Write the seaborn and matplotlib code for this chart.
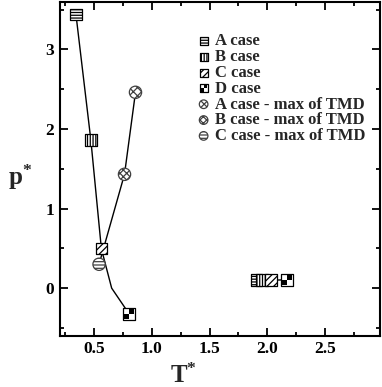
import numpy as np
import pandas as pd
import seaborn as sns
import matplotlib.pyplot as plt
from matplotlib.path import Path
from matplotlib.legend_handler import HandlerTuple

#------------------------------------------------------------------------------------
# data (T*, p*)

# low-T branch, solid line (the 4th point is a bare kink of the line)
line_t = [0.345, 0.474, 0.565, 0.654, 0.806]
line_p = [3.44, 1.86, 0.495, 0.0, -0.325]

# high-T cluster
hi_t = [1.905, 1.955, 2.03, 2.17]
hi_p = [0.10, 0.10, 0.10, 0.105]

cases = ["A", "B", "C", "D"]
case_t = {"A": [0.345, 1.905], "B": [0.474, 1.955], "C": [0.565, 2.03], "D": [0.806, 2.17]}
case_p = {"A": [3.44, 0.10], "B": [1.86, 0.10], "C": [0.495, 0.10], "D": [-0.325, 0.105]}
case_hatch = {"A": "------", "B": "||||||", "C": "/////", "D": None}

# TMD maxima (line goes C -> B -> A)
tmd_cases = ["C", "B", "A"]
tmd_t = [0.545, 0.765, 0.86]
tmd_p = [0.30, 1.43, 2.46]
tmd_hatch = {"A": "xxxx", "B": "xxxxx", "C": "-----"}

x_ticks = [0.5, 1.0, 1.5, 2.0, 2.5]
y_ticks = [0, 1, 2, 3]

#------------------------------------------------------------------------------------

sns.set_theme(style="ticks")
plt.rcParams["font.family"] = ["Liberation Serif", "DejaVu Serif"]
plt.rcParams["font.weight"] = "bold"
plt.rcParams["mathtext.fontset"] = "custom"
plt.rcParams["mathtext.rm"] = "Liberation Serif:bold"
plt.rcParams["mathtext.bf"] = "Liberation Serif:bold"
plt.rcParams["mathtext.it"] = "Liberation Serif:bold"
plt.rcParams["hatch.linewidth"] = 0.9

fig = plt.figure(figsize=(3.82, 3.87), dpi=100)
ax = fig.add_axes([0.157, 0.132, 0.8365, 0.864])

sns.lineplot(x=line_t, y=line_p, sort=False, estimator=None, color="black", lw=1.0, ax=ax, zorder=1)
sns.lineplot(x=tmd_t, y=tmd_p, sort=False, estimator=None, color="black", lw=1.0, ax=ax, zorder=1)
sns.lineplot(x=hi_t, y=hi_p, sort=False, estimator=None, color="black", lw=1.0, ax=ax, zorder=1)

ms = 68
handles, labels = [], []

# checker marker for D case: two black quadrants
quad = Path(
    [(-1, -1), (0, -1), (0, 0), (-1, 0), (-1, -1),
     (0, 0), (1, 0), (1, 1), (0, 1), (0, 0)],
    [Path.MOVETO, Path.LINETO, Path.LINETO, Path.LINETO, Path.CLOSEPOLY] * 2,
)

for c in cases:
    h = ax.scatter(case_t[c], case_p[c], marker="s", s=ms, facecolor="white",
                   edgecolor="black", linewidth=0.9, hatch=case_hatch[c], zorder=3)
    if c == "D":
        q = ax.scatter(case_t[c], case_p[c], marker=quad, s=ms * 0.72,
                       facecolor="black", edgecolor="none", zorder=4)
        handles.append((h, q))
    else:
        handles.append(h)
    labels.append(f"{c} case")

for c in ["A", "B", "C"]:
    i = tmd_cases.index(c)
    h = ax.scatter([tmd_t[i]], [tmd_p[i]], marker="o", s=ms * 1.15,
                   facecolor="white", edgecolor="0.25", linewidth=0.9, hatch=tmd_hatch[c], zorder=3)
    handles.append(h)
    labels.append(f"{c} case - max of TMD")

ax.legend(handles, labels, loc="upper left", bbox_to_anchor=(0.40, 0.935), frameon=False,
          fontsize=12, handlelength=0.7, handletextpad=0.35, labelspacing=-0.01,
          markerscale=0.7, borderaxespad=0.2,
          handler_map={tuple: HandlerTuple(ndivide=1, pad=0)})

ax.set_xlim(0.207, 2.97)
ax.set_ylim(-0.6, 3.6)
ax.set_xticks(x_ticks)
ax.set_xticklabels([f"{v:.1f}" for v in x_ticks])
ax.set_yticks(y_ticks)
ax.set_yticklabels([str(v) for v in y_ticks])
ax.set_xticks(np.arange(0.25, 3.0, 0.25), minor=True)
ax.set_yticks(np.arange(-0.5, 3.6, 0.5), minor=True)

ax.tick_params(which="both", direction="in", top=True, right=True, width=1.3, colors="black")
ax.tick_params(which="major", length=6, labelsize=12.5, pad=4)
ax.tick_params(which="minor", length=3)
for lab in ax.get_xticklabels() + ax.get_yticklabels():
    lab.set_fontweight("bold")
for sp in ax.spines.values():
    sp.set_linewidth(1.5)
    sp.set_color("black")

ax.set_xlabel(r"$\mathbf{T}^{*}$", fontsize=18)
ax.set_ylabel(r"$\mathbf{p}^{*}$", fontsize=18, rotation=0)
ax.xaxis.set_label_coords(0.385, -0.083)
ax.yaxis.set_label_coords(-0.125, 0.43)

fig.savefig("out.png", dpi=100)
